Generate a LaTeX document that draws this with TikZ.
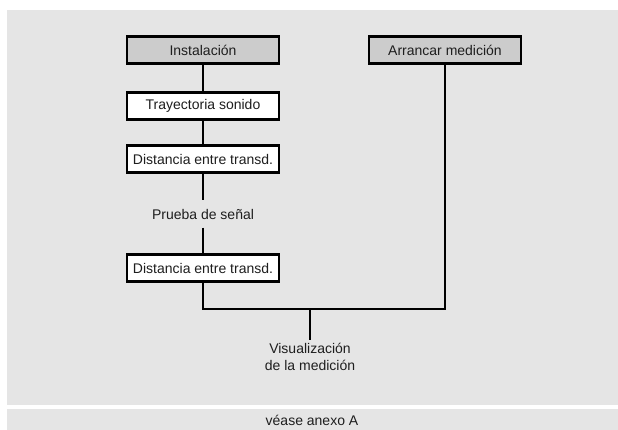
\documentclass[tikz,border=0pt]{standalone}
\usepackage{fontspec}
\setmainfont{Liberation Sans}
\definecolor{panelgray}{HTML}{E5E5E5}
\definecolor{boxgray}{HTML}{CCCCCC}
\definecolor{inkgray}{HTML}{1E1E1E}
\begin{document}
\begin{tikzpicture}[x=1pt, y=-1pt, font=\fontsize{14}{17.5}\selectfont, text=inkgray,
  stepbox/.style={draw=black, line width=2.6pt, fill=white, minimum width=152pt,
    minimum height=27pt, inner sep=0pt},
  headbox/.style={stepbox, fill=boxgray},
  link/.style={line width=2.4pt}]
  \useasboundingbox (0,0) rectangle (618,430);
  \fill[panelgray] (7,10) rectangle (618,405);
  \fill[panelgray] (7,409) rectangle (618,430);
  \node[headbox] (inst) at (203,50) {Instalación};
  \node[stepbox] (tray) at (203,106) {Trayectoria sonido};
  \node[stepbox] (dist1) at (203,159) {Distancia entre transd.};
  \node[minimum height=27pt, inner sep=0pt] (prueba) at (203,214) {Prueba de señal};
  \node[stepbox] (dist2) at (203,268) {Distancia entre transd.};
  \node[headbox] (arr) at (445,50) {Arrancar medición};
  \coordinate (join) at (310,309);
  \node[align=center, inner sep=3pt] (vis) at (310,357)
    {Visualización\\de la medición};
  \node (anexo) at (312,420) {véase anexo A};
  \draw[link] (inst) -- (tray);
  \draw[link] (tray) -- (dist1);
  \draw[link] (dist1) -- (prueba);
  \draw[link] (prueba) -- (dist2);
  \draw[link] (dist2.south) |- (join) -| (arr.south);
  \draw[link] (join) -- (vis.north);
\end{tikzpicture}
\end{document}
